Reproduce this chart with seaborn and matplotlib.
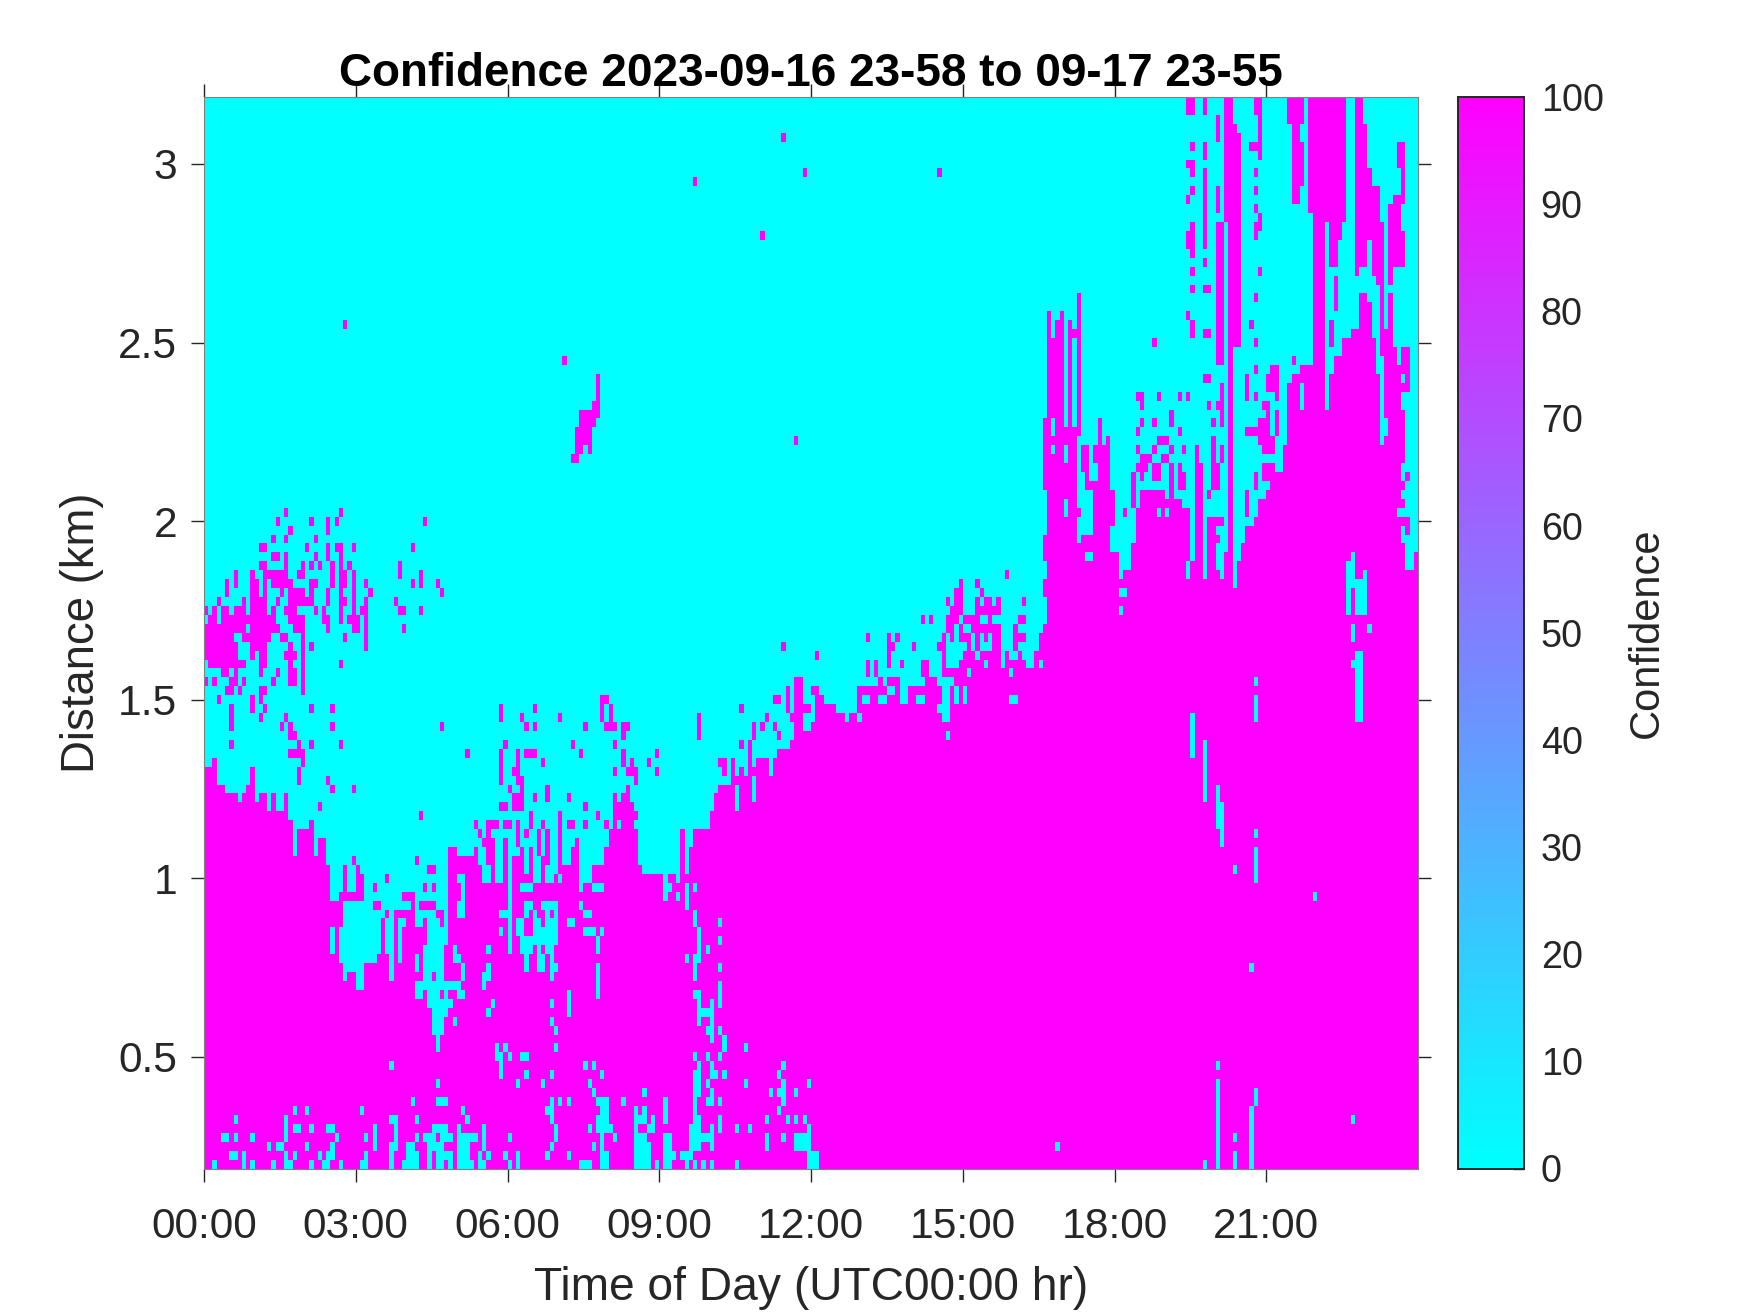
import numpy as np
import seaborn as sns
import matplotlib
matplotlib.use("Agg")
import matplotlib.pyplot as plt

# 5 minute bins, 25 m range gates
n_bins = 288
n_gates = 120
first_gate_km = 0.1875
gate_km = 0.025

hour_ticks = [0, 3, 6, 9, 12, 15, 18, 21]
hour_labels = ["00:00", "03:00", "06:00", "09:00", "12:00", "15:00", "18:00", "21:00"]
km_ticks = [0.5, 1, 1.5, 2, 2.5, 3]
km_labels = ["0.5", "1", "1.5", "2", "2.5", "3"]
conf_ticks = [0, 10, 20, 30, 40, 50, 60, 70, 80, 90, 100]

# highest gate of the solid high confidence layer, one line per hour
layer_top = [
    44, 44, 45, 42, 42, 41, 41, 41, 40, 41, 42, 43,
    40, 41, 41, 39, 41, 39, 39, 41, 38, 36, 37, 37,
    37, 38, 36, 36, 36, 33, 29, 29, 29, 33, 21, 21,
    33, 32, 22, 22, 22, 23, 27, 28, 28, 28, 28, 28,
    28, 29, 28, 29, 29, 29, 29, 28, 28, 28, 35, 35,
    34, 34, 34, 34, 35, 33, 32, 35, 36, 32, 31, 36,
    34, 34, 34, 34, 32, 35, 33, 32, 34, 36, 32, 32,
    37, 33, 33, 35, 36, 31, 31, 31, 33, 33, 33, 36,
    37, 40, 40, 41, 42, 40, 39, 33, 32, 32, 32, 32,
    32, 32, 32, 32, 31, 37, 37, 37, 37, 37, 37, 37,
    39, 41, 42, 42, 42, 42, 43, 43, 43, 44, 44, 45,
    45, 45, 44, 46, 46, 47, 47, 47, 48, 48, 48, 48,
    49, 49, 49, 49, 49, 50, 50, 50, 50, 50, 50, 53,
    53, 53, 53, 53, 54, 54, 54, 54, 54, 53, 53, 53,
    53, 54, 54, 54, 54, 54, 54, 55, 55, 55, 55, 56,
    57, 57, 57, 56, 57, 57, 57, 57, 57, 55, 57, 56,
    56, 57, 56, 55, 55, 57, 58, 59, 95, 92, 94, 95,
    82, 94, 93, 97, 70, 70, 70, 80, 83, 80, 81, 75,
    68, 65, 66, 66, 77, 74, 75, 75, 75, 75, 75, 75,
    74, 75, 74, 74, 73, 73, 72, 80, 78, 66, 72, 72,
    66, 65, 68, 119, 64, 67, 69, 69, 71, 72, 74, 74,
    75, 76, 77, 80, 80, 87, 88, 88, 84, 89, 89, 119,
    119, 119, 84, 88, 90, 90, 92, 92, 93, 93, 97, 97,
    96, 92, 88, 80, 91, 97, 91, 87, 84, 66, 66, 68,
]

# high confidence cells above the layer: gate -> bins
high_left = {
    73: [19, 32], 72: [17, 25, 29, 31, 52], 71: [20, 29], 70: [16, 19, 26],
    69: [13, 14, 24, 29, 31, 32, 35, 49], 68: [(16, 17), 19, 26, 29, 32],
    67: [(13, 14), 19, 23, 25, 27, 30, 32, 34, 46],
    66: [7, 11, (14, 19), (22, 23), 30, (32, 33), 35, 46, 51],
    65: [5, 7, (11, 12), 14, (16, 20), (25, 26), 30, (32, 33), 35, 38, 49, 51, 55],
    64: [5, (11, 12), 14, 18, (20, 23), 25, 29, 32, 35, 39, 56],
    63: [3, 9, (11, 14), 17, (20, 25), 29, (32, 33), 35, 38, 45],
    62: [0, 2, (4, 5), (7, 9), (11, 14), 16, (19, 21), 26, 28, 32, 35, (37, 38), (46, 47), 51],
    61: [(1, 2), (4, 10), (11, 15), 16, (20, 23), (28, 29), 32, (34, 36), 38],
    60: [(0, 9), (11, 17), (21, 23), 29, (35, 36), 38, 47],
    59: [(0, 6), (9, 15), (18, 19), 23, 33, 38],
    58: [(0, 7), (11, 14), 20, 23, 25, 38],
    57: [(0, 7), 11, (13, 14), (19, 21), 23],
    56: [(1, 9), (13, 14), 20, 23, 32],
    55: [(4, 5), 7, 13, 17, (20, 21), 23],
    54: [0, 2, (6, 7), 9, 16, (20, 21), 23],
    53: [(5, 6), 8, (13, 14), 23],
    52: [3, 11, 13, (94, 95)],
    51: [6, 11, 14, 25, 30, 70, 78, 94],
    50: [6, 13, 19, 70, 75, 84, 94],
    49: [6, 18, 20, 30, 56, 76, 78, 90, 95],
    48: [(20, 21)],
    47: [6, 22, 25, 32, 71, 87],
    46: [(20, 23), 62, 70, 74, (76, 78), 89],
    45: [2, 23, 70, 74, 80],
    44: [2, 11, 22, 70, (73, 74)],
    43: [22, 29, 70, (74, 75)],
    42: [30, 35, 72, 75, 81],
    41: [78, (73, 75), 81, 86],
    40: [27, (70, 71), (73, 75), 90],
    39: [51, 77, 84, (93, 94)],
    38: [64, (67, 68), 69, (71, 72), 74, 77, 80, 84, (86, 87), 90, (94, 95)],
    37: [65, 67, 74, 76, 79, 81, 84],
    36: [(66, 68), 71, 74, 79, 81, 88],
    35: [58, 64, 67, 75, 79, 81, (87, 88)],
    34: [35, 50, (58, 61)],
    33: [33, 36, (53, 54)],
    32: [33, 37, 43],
    31: [33, 37, 40, 52, 54],
    30: [(32, 37), (47, 48), 49],
    29: [(40, 41), 49],
    28: [35], 27: [35], 26: [35],
}

high_mid = {
    54: [(140, 141)], 53: [138, (140, 141), (144, 145)],
    52: [94, (135, 136), 138, (140, 141), 145, 146],
    51: [96, 127, 138, 140, 141, (142, 143), 145, 146, (147, 148), 149],
    50: [94, 96, 117, 133, 139, 140, 141, 145, 146, (147, 148)],
    49: [(95, 97), (99, 100), 117, 130, 132, 135, 140, 141],
    48: [99, 117, 130, 136, 140, 141],
    47: [97, 127, 129],
    46: [99, 107, 129],
    45: [99, 101, 105, 122, 123, 125, 129],
    44: [97, 100, 101, 102, 107, 123, 125, 127],
    43: [102, 125],
    42: [100, 125],
    41: [97, 125],
    57: [145, 162, 175],
    58: [137, (162, 163), 168, 174, 175, 181, 183, (187, 188), 192, 198],
    59: [157, 162, 164, 175, 177, 179, (180, 181), 183, 185, (187, 188), 192, (193, 194), 198],
    60: [176, 177, 179, (182, 184), (185, 188), 192, 199],
    61: [170, 172, 176, (177, 178), 180, (181, 183), 186, (193, 194)],
    62: [(177, 179), 183, 184, (185, 186), (187, 188)],
    63: [176, (178, 179), 183, (185, 186), (188, 188), 194],
    64: [(178, 179), 184],
    65: [179, 183],
    66: [190],
    56: [159, 157, 162, 165, (170, 171), 175],
    55: [157, 159, (170, 171)],
}

high_specks = {
    115: [137], 111: [142, 174], 110: [116], 104: [132], 94: [33], 90: [85],
    81: [(88, 91), 140], 52: [193],
    86: [93], 87: [93], 88: [93], 85: [(92, 93)], 84: [(89, 93)], 83: [(89, 92)],
    82: [(88, 91)], 80: [(88, 89), 91], 79: [(87, 88)],
}

# (first bin, last bin, first gate, last gate)
high_right = [
    (199, 199, 64, 65), (199, 199, 68, 70), (199, 199, 76, 83),
    (208, 209, 78, 80), (209, 209, 76, 80), (209, 211, 76, 76), (214, 214, 81, 81),
    (218, 218, 73, 73), (212, 212, 81, 83),
    (233, 234, 118, 119), (237, 237, 118, 119), (240, 240, 115, 117),
    (242, 242, 116, 119), (242, 245, 106, 115), (244, 244, 116, 116), (245, 245, 100, 100),
    (243, 245, 96, 105), (244, 245, 92, 96), (240, 241, 100, 105), (240, 241, 93, 99),
    (240, 240, 107, 109), (240, 241, 90, 92), (241, 241, 83, 87), (241, 241, 79, 80),
    (234, 234, 114, 114), (233, 234, 112, 112), (234, 234, 111, 111), (234, 234, 109, 109),
    (233, 233, 108, 108), (234, 234, 105, 105), (233, 234, 103, 104), (234, 234, 102, 102),
    (234, 234, 100, 100), (234, 234, 98, 98), (233, 233, 95, 95), (234, 234, 93, 94),
    (237, 237, 113, 114), (237, 237, 103, 111), (237, 237, 101, 101), (237, 237, 98, 98),
    (237, 237, 93, 93), (237, 237, 88, 88), (238, 238, 98, 98), (238, 238, 93, 93),
    (238, 238, 88, 88), (238, 238, 85, 85),
    (249, 250, 118, 119), (250, 250, 115, 118), (248, 250, 114, 114), (250, 250, 113, 113),
    (249, 249, 111, 111), (249, 249, 109, 109), (249, 249, 107, 107), (250, 250, 106, 106),
    (249, 250, 105, 105), (249, 249, 104, 104), (250, 250, 100, 100), (249, 249, 97, 97),
    (248, 248, 94, 94), (249, 249, 92, 92), (249, 249, 89, 89), (225, 225, 92, 92),
    (247, 247, 88, 88), (252, 252, 88, 88), (253, 253, 88, 89), (258, 258, 90, 90),
    (257, 260, 117, 119), (258, 259, 115, 116), (258, 260, 110, 114), (258, 259, 108, 109),
    (258, 259, 88, 88), (260, 260, 88, 89),
    (262, 262, 107, 119), (266, 270, 106, 119), (267, 268, 101, 105), (269, 269, 104, 105),
    (268, 268, 96, 99), (267, 267, 94, 94), (267, 267, 92, 92), (268, 268, 96, 99),
    (273, 274, 117, 119), (273, 275, 112, 116), (273, 276, 110, 111), (273, 278, 106, 109),
    (273, 275, 101, 105), (276, 279, 104, 105), (277, 279, 100, 103), (278, 279, 99, 99),
    (273, 273, 100, 100), (279, 279, 94, 98), (279, 281, 91, 93), (280, 282, 88, 91),
    (281, 281, 92, 97), (283, 284, 112, 114), (284, 284, 109, 111), (282, 284, 108, 108),
    (281, 283, 105, 107), (281, 284, 101, 104), (281, 281, 99, 100), (281, 281, 92, 97),
    (284, 284, 89, 91), (282, 285, 89, 89), (285, 285, 87, 91), (283, 285, 87, 87),
    (285, 285, 77, 77), (285, 285, 71, 72), (280, 283, 83, 89),
    (221, 222, 86, 86), (222, 222, 85, 85), (226, 226, 86, 86), (231, 231, 86, 86),
    (233, 233, 86, 86), (238, 238, 85, 85), (240, 240, 85, 85), (229, 229, 83, 84),
    (222, 222, 83, 83), (225, 225, 83, 83), (239, 239, 83, 83), (221, 221, 82, 82),
    (231, 231, 82, 82), (226, 227, 81, 81), (228, 228, 81, 81), (239, 239, 78, 81),
    (221, 221, 80, 80), (225, 225, 80, 80), (229, 229, 80, 80), (232, 232, 80, 80),
    (222, 224, 79, 79), (227, 228, 79, 79), (221, 223, 78, 78), (225, 226, 78, 78),
    (229, 229, 78, 78), (231, 231, 77, 78), (239, 240, 76, 78), (222, 222, 77, 77),
    (225, 226, 77, 77), (229, 229, 76, 77), (231, 232, 76, 77), (238, 238, 75, 75),
    (240, 241, 72, 72), (240, 240, 70, 70), (239, 239, 69, 72), (243, 243, 80, 90),
    (247, 247, 86, 88), (249, 249, 89, 89), (249, 249, 86, 86), (252, 252, 87, 88),
    (253, 254, 87, 87), (254, 254, 87, 89), (254, 254, 86, 86), (251, 252, 85, 85),
    (254, 254, 82, 84), (250, 252, 81, 83), (252, 252, 80, 85), (251, 253, 80, 81),
    (247, 249, 82, 82), (251, 252, 77, 78), (253, 253, 77, 78), (249, 249, 76, 77),
    (247, 247, 73, 75), (247, 247, 70, 71), (249, 249, 97, 97), (267, 267, 92, 94),
    (268, 268, 96, 99),
]

# low confidence cells inside the layer: gate -> bins
low_bottom = {
    0: [2, 9, 11, 16, (19, 20), 25, (28, 29), 32, (37, 38), 44, (47, 50), 53, (55, 56), 58,
        (60, 63), (65, 66), 72, 74, (89, 90), 91, (94, 95), (102, 105), 107, (109, 110),
        114, 116, 118, 120, 126, (143, 145)],
    1: [(6, 7), 9, 19, 21, 27, (29, 30), 38, 44, (48, 50), 53, (55, 57), 58, (60, 62), 65, 67,
        71, 74, 81, 86, (94, 95), (102, 105), (109, 111), (113, 115), (143, 145)],
    2: [15, 17, 18, 24, 30, 40, (44, 45), 48, 49, (53, 56), (60, 62), 66, 82, 92, 94,
        (102, 105), (109, 110), (115, 117), 120, 133, (140, 143), 202],
    3: [(4, 5), 7, 11, 19, 31, 38, 40, 45, 50, (52, 54), (56, 58), (60, 64), 66, 72, 83, 94,
        97, (102, 104), (109, 110), 115, (116, 117), (118, 119), 120, 133, 137, (140, 143)],
    4: [19, (21, 22), 25, (29, 30), 40, 45, (54, 57), 60, 66, 83, 91, 93, 94, (95, 96),
        102, (105, 106), (115, 117), 120, 122, 126, 129, 143],
    5: [7, 19, (44, 45), 50, 62, 82, 93, (94, 95), (102, 104), 106, 109, (116, 117), 122, 133,
        138, 140, 142],
    6: [21, 24, 37, 61, (81, 82), 94, (94, 95), 102, 104, 109, 116, 136],
    7: [49, 55, (56, 57), 82, 84, 86, 93, 94, (94, 95), 99, 109, 116, (119, 120), 122, 137],
    8: [92, 104, (116, 117), 120, 134, (136, 137), 140],
    9: [55, 74, 80, 91, (116, 117), 119, 128, 137, 143],
    10: [70, 76, 82, 94, (116, 117), 120, 121, 123, 136],
    11: [44, 70, 90, 92, 117, 120, 137],
    12: [(69, 70), 72, 75, 76, 116, 119, 122],
    13: [55, 69, 71, 83, 123, 128],
    14: [55, 120, 123],
    15: [(54, 56), 83, (119, 120), 122],
    16: [(54, 56), 59, 82, 117, 120],
    17: [(54, 56), 57, 67, 86, 117, (118, 119), 120],
    18: [(53, 58), 68, 82, 86, 117, 120, 122],
    19: [(50, 51), (53, 55), 57, (60, 61), 86, 93, (116, 117), 122],
    20: [(50, 58), (59, 60), 66, 93, 122],
    21: [(52, 53), (55, 56), 61, 66, 67, 82, 93, 116],
    22: [(52, 56), 50, 61, 67, 76, (79, 80), (82, 83), 93, 116, 122],
    23: [50, (52, 56), (59, 60), 76, (79, 80), 82, 114, (116, 117)],
    24: [(52, 56), 59, 67, 72, (75, 77), 79, (81, 82), 93, 117, 119],
    25: [(53, 56), 57, 72, (75, 83), 93, 117, 122],
    26: [(53, 55), 56, 57, 70, 72, (74, 75), (78, 83), (90, 92), 94, 94, 117],
    27: [47, 50, 51, (53, 55), 57, 72, (74, 75), (78, 79), (81, 83), (86, 87), 116, 122],
    28: [(50, 54), 57, (60, 61), (70, 71), 72, 76, 78, 81, 83, (90, 91), 116],
    29: [(60, 61), 72, (76, 77), (80, 83), 89, 114],
    30: [61, 72, 109, 112, 114],
    31: [61, 72, (75, 77), (92, 93), 89, 94, 110, 114, 116],
    32: [(60, 61), 66, 67, 69, 72, (78, 79), (81, 82), 84, 109],
    33: [66, 67, 72, (78, 79), (81, 82)],
    34: [72],
}

low_holes = [
    (21, 21, 35, 36), (26, 26, 35, 36), (30, 30, 24, 26), (32, 32, 23, 26),
    (33, 33, 21, 29), (36, 37, 20, 29), (43, 43, 24, 27), (44, 44, 21, 28),
    (46, 46, 23, 27), (34, 35, 22, 29), (40, 41, 24, 28), (38, 39, 23, 29),
    (42, 42, 28, 29),
    (94, 94, 34, 39), (95, 95, 36, 37), (98, 98, 38, 38), (102, 102, 38, 38),
    (103, 103, 35, 35), (105, 105, 37, 37), (109, 109, 30, 32), (110, 110, 31, 31),
    (112, 112, 30, 30), (114, 114, 29, 31), (116, 116, 31, 31), (116, 116, 27, 28),
    (117, 117, 25, 26), (119, 119, 24, 24), (114, 114, 33, 36), (114, 115, 36, 37),
    (120, 120, 14, 18), (122, 122, 18, 20), (123, 123, 13, 14), (118, 119, 17, 17),
    (117, 117, 16, 18), (119, 120, 7, 7),
    (126, 126, 40, 42), (130, 130, 41, 43), (134, 134, 44, 45), (135, 135, 46, 46),
    (137, 138, 47, 47), (152, 152, 50, 50), (155, 155, 50, 50),
    (157, 158, 54, 54), (157, 157, 52, 52), (161, 161, 54, 54), (161, 161, 52, 52),
    (163, 163, 53, 53), (166, 166, 52, 53), (170, 170, 52, 52), (166, 170, 54, 54),
    (176, 176, 50, 53), (180, 180, 52, 53), (175, 175, 54, 54), (177, 177, 54, 54),
    (176, 176, 48, 48), (191, 191, 52, 52),
    (185, 185, 56, 56), (181, 181, 55, 55), (191, 191, 55, 55), (196, 196, 56, 56),
    (198, 198, 56, 56), (176, 176, 54, 54), (162, 162, 53, 53), (165, 165, 52, 53),
    (156, 157, 52, 52), (160, 160, 52, 52), (169, 170, 52, 52), (175, 175, 50, 53),
    (178, 178, 52, 53), (192, 192, 52, 52), (174, 175, 51, 51), (165, 165, 55, 55),
    (167, 169, 54, 54), (174, 174, 54, 54),
    (201, 201, 82, 83), (201, 201, 80, 80), (204, 204, 79, 80), (204, 204, 73, 74),
    (206, 206, 86, 92), (206, 206, 83, 85), (207, 207, 74, 81), (207, 207, 70, 72),
    (208, 208, 74, 77), (209, 210, 68, 68), (210, 211, 77, 78), (209, 210, 71, 75),
    (215, 215, 69, 71), (217, 218, 64, 64), (217, 217, 62, 62), (220, 220, 70, 73),
    (226, 226, 73, 73), (228, 228, 73, 73), (228, 228, 75, 75), (221, 221, 74, 74),
    (233, 233, 66, 67), (234, 234, 68, 72), (237, 237, 66, 66), (240, 240, 67, 69),
    (238, 238, 73, 74), (244, 244, 65, 69), (255, 255, 78, 80),
    (272, 272, 68, 68), (271, 272, 65, 67), (271, 271, 62, 64), (273, 275, 62, 65),
    (275, 275, 66, 66), (272, 272, 59, 60), (276, 276, 60, 60),
    (273, 273, 50, 54), (273, 274, 55, 57), (272, 272, 56, 56), (274, 274, 50, 55),
    (234, 234, 46, 50), (237, 237, 41, 47), (240, 240, 38, 42), (241, 241, 36, 40),
    (249, 249, 54, 54), (249, 249, 50, 52), (249, 249, 37, 37), (249, 249, 32, 35),
    (244, 244, 33, 33), (263, 263, 30, 30), (248, 248, 22, 22),
    (240, 240, 11, 11), (240, 240, 0, 9), (249, 249, 7, 8), (248, 248, 0, 6),
    (244, 244, 3, 3), (244, 244, 0, 1), (237, 237, 0, 0), (272, 272, 5, 5),
    (280, 280, 82, 83), (284, 284, 77, 78), (284, 284, 75, 75), (284, 284, 73, 73),
    (283, 283, 73, 73), (284, 284, 70, 71),
]


def fill_gates(grid, gate_map, value):
    for gate, bins in gate_map.items():
        for b in bins:
            first, last = b if isinstance(b, tuple) else (b, b)
            grid[gate, first:last + 1] = value


def fill_boxes(grid, boxes, value):
    for first, last, low, high in boxes:
        grid[low:high + 1, first:last + 1] = value


def build_confidence():
    grid = np.zeros((n_gates, n_bins))
    for b, top in enumerate(layer_top):
        grid[:top + 1, b] = 100
    fill_gates(grid, high_left, 100)
    fill_gates(grid, high_mid, 100)
    fill_gates(grid, high_specks, 100)
    fill_boxes(grid, high_right, 100)
    fill_gates(grid, low_bottom, 0)
    fill_boxes(grid, low_holes, 0)
    return grid


def km_to_gate(km):
    return (km - first_gate_km) / gate_km


def main():
    sns.set_theme(style="white")
    plt.rcParams["font.family"] = ["Liberation Sans", "DejaVu Sans"]
    ink = "#262626"

    fig = plt.figure(figsize=(8.75, 6.565), dpi=200)
    ax = fig.add_axes([204 / 1750, 1 - 1168.5 / 1313, 1214 / 1750, 1071.5 / 1313])
    cax = fig.add_axes([1458 / 1750, 1 - 1168.5 / 1313, 66 / 1750, 1071.5 / 1313])

    sns.heatmap(build_confidence(), ax=ax, cbar_ax=cax, cmap="cool", vmin=0, vmax=100,
                xticklabels=False, yticklabels=False,
                cbar_kws={"ticks": conf_ticks})
    ax.set_ylim(0, n_gates)
    ax.set_xlim(0, n_bins)

    ax.set_xticks([h * 12 for h in hour_ticks])
    ax.set_xticklabels(hour_labels)
    ax.set_yticks([km_to_gate(k) for k in km_ticks])
    ax.set_yticklabels(km_labels, rotation=0)
    ax.tick_params(axis="both", which="major", direction="out", length=4.7, width=0.5,
                   color=ink, labelcolor=ink, labelsize=15.3, top=True, right=True,
                   bottom=True, left=True, pad=9)
    ax.tick_params(axis="y", pad=5)
    for side in ax.spines.values():
        side.set_visible(True)
        side.set_color("#808080")
        side.set_linewidth(0.4)

    ax.set_xlabel("Time of Day (UTC00:00 hr)", fontsize=16.6, color=ink, labelpad=7)
    ax.set_ylabel("Distance (km)", fontsize=16.4, color=ink, labelpad=5)
    ax.set_title("Confidence 2023-09-16 23-58 to 09-17 23-55", fontsize=16.5,
                 fontweight="bold", color="black", pad=4)

    cax.tick_params(axis="y", direction="in", length=3.8, width=0.5, color=ink,
                    labelcolor=ink, labelsize=13.6, right=True, left=False, pad=6)
    cax.set_ylabel("Confidence", fontsize=15, color=ink, labelpad=8.5)
    for side in cax.spines.values():
        side.set_visible(True)
        side.set_color(ink)
        side.set_linewidth(0.6)

    fig.savefig("out.png", dpi=200)


if __name__ == "__main__":
    main()
